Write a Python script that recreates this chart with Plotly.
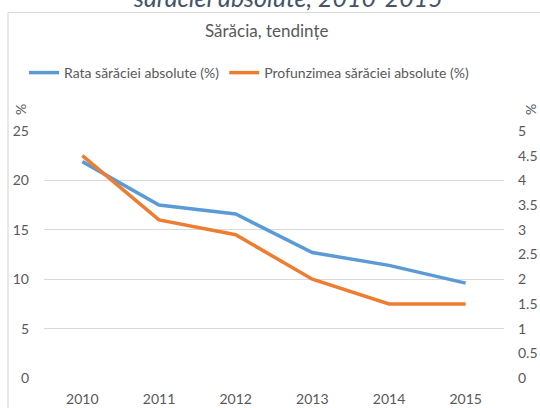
import plotly.graph_objects as go

years = ["2010", "2011", "2012", "2013", "2014", "2015"]
rata = [21.9, 17.5, 16.6, 12.7, 11.4, 9.6]
profunzimea = [4.5, 3.2, 2.9, 2.0, 1.5, 1.5]
left_ticks = [0, 5, 10, 15, 20, 25]
right_ticks = [0, 0.5, 1, 1.5, 2, 2.5, 3, 3.5, 4, 4.5, 5]
right_tick_labels = ["0", "0.5", "1", "1.5", "2", "2.5", "3", "3.5", "4", "4.5", "5"]

FONT = "Lato"
GRAY = "#595959"

W, H = 540, 408
L, R, T, B = 44, 36, 131, 30
PW, PH = W - L - R, H - T - B

def px(x):
    return (x - L) / PW

def py(y):
    return (H - B - y) / PH

fig = go.Figure()
fig.add_trace(go.Scatter(
    x=years, y=rata, mode="lines", name="Rata sărăciei absolute (%)",
    line=dict(color="#5B9BD5", width=3.5), yaxis="y"))
fig.add_trace(go.Scatter(
    x=years, y=profunzimea, mode="lines", name="Profunzimea sărăciei absolute (%)",
    line=dict(color="#ED7D31", width=3.5), yaxis="y2"))

fig.update_layout(
    width=W, height=H,
    margin=dict(l=L, r=R, t=T, b=B, autoexpand=False),
    paper_bgcolor="white", plot_bgcolor="white",
    font=dict(family=FONT, color=GRAY, size=14),
    showlegend=True,
    legend=dict(orientation="h", x=px(24), xanchor="left", y=py(73), yanchor="middle",
                font=dict(size=14, color=GRAY), itemwidth=30, tracegroupgap=0,
                bgcolor="rgba(0,0,0,0)"),
    xaxis=dict(type="category", range=[-0.5, 5.5], showgrid=False, showline=False,
               zeroline=False, ticks="", tickfont=dict(size=14, color=GRAY),
               ticklabelstandoff=11),
    yaxis=dict(range=[0, 25], tickvals=left_ticks, showgrid=True, gridcolor="#D9D9D9",
               gridwidth=1, zeroline=False, showline=False, ticks="",
               tickfont=dict(size=14, color=GRAY), ticklabelstandoff=14),
    yaxis2=dict(range=[0, 5], tickvals=right_ticks, ticktext=right_tick_labels,
                overlaying="y", side="right",
                showgrid=False, zeroline=False, showline=False, ticks="",
                tickfont=dict(size=14, color=GRAY), ticklabelstandoff=13),
    shapes=[
        dict(type="line", xref="paper", yref="paper",
             x0=px(8), x1=px(560), y0=py(12.5), y1=py(12.5),
             line=dict(color="#D9D9D9", width=1.2)),
        dict(type="line", xref="paper", yref="paper",
             x0=px(8), x1=px(8), y0=py(12.5), y1=py(430),
             line=dict(color="#D9D9D9", width=1.2)),
    ],
    annotations=[
        dict(text="sărăciei absolute, 2010-2015", xref="paper", yref="paper",
             x=px(288), y=py(14.5), xanchor="center", yanchor="bottom", showarrow=False,
             font=dict(family=FONT, size=25, color="#44546A", style="italic")),
        dict(text="Sărăcia, tendințe", xref="paper", yref="paper",
             x=px(266), y=py(31), xanchor="center", yanchor="middle", showarrow=False,
             font=dict(family=FONT, size=17, color=GRAY)),
        dict(text="%", xref="paper", yref="paper", x=px(20), y=py(110),
             xanchor="center", yanchor="middle", showarrow=False, textangle=-90,
             font=dict(family=FONT, size=14, color=GRAY)),
        dict(text="%", xref="paper", yref="paper", x=px(530), y=py(110),
             xanchor="center", yanchor="middle", showarrow=False, textangle=-90,
             font=dict(family=FONT, size=14, color=GRAY)),
    ],
)

fig.write_html("out.html", config={"displayModeBar": False},
               post_script="document.body.style.margin='0';document.body.style.overflow='hidden';")
